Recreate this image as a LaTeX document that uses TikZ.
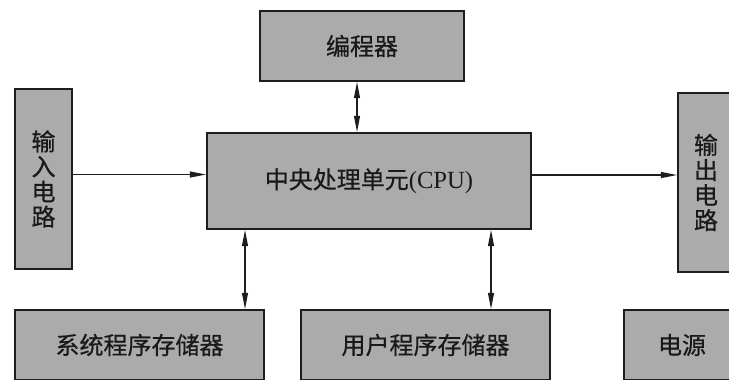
\documentclass[tikz,border=0pt]{standalone}
\usepackage{fontspec}
\setmainfont{Liberation Serif}
\newfontfamily\cjk[FakeBold=0.6]{Noto Sans CJK SC}
\usetikzlibrary{arrows.meta,calc}
\definecolor{boxgray}{HTML}{ABABAB}
\definecolor{linegray}{HTML}{1E1E1E}
\tikzset{
  blk/.style={draw=linegray,line width=1.6pt,fill=boxgray,rectangle,inner sep=0pt,
    font=\fontsize{18}{19}\selectfont\cjk,text=black!90},
  dbl/.style={line width=0.8pt,draw=linegray,{Triangle[length=12pt,width=4.5pt]}-{Triangle[length=12pt,width=4.5pt]}},
  sgl/.style={line width=0.8pt,draw=linegray,-{Triangle[length=12pt,width=4.5pt]}}
}
\begin{document}
\begin{tikzpicture}[x=0.75pt,y=-0.75pt]
\useasboundingbox (0,0) rectangle (729,379);
\fill[white] (0,0) rectangle (729,379);
\clip (0,0) rectangle (729,379);
\node[blk,minimum width=204*0.75pt,minimum height=70*0.75pt] (prog) at (362,46) {编程器};
\node[blk,minimum width=57*0.75pt,minimum height=180*0.75pt,align=center,font=\fontsize{18}{18.8}\selectfont\cjk] (in) at (43.5,179) {输\\入\\电\\路};
\node[blk,minimum width=324*0.75pt,minimum height=96*0.75pt] (cpu) at (369,181) {中央处理单元{\rmfamily\fontsize{18.5}{19}\selectfont(CPU)}};
\node[blk,minimum width=56*0.75pt,minimum height=179*0.75pt,align=center,font=\fontsize{18}{18.8}\selectfont\cjk] (out) at (706,182.5) {输\\出\\电\\路};
\node[blk,minimum width=249*0.75pt,minimum height=70*0.75pt] (sys) at (139.5,345) {系统程序存储器};
\node[blk,minimum width=249*0.75pt,minimum height=70*0.75pt] (usr) at (425.5,345) {用户程序存储器};
\node[blk,minimum width=116*0.75pt,minimum height=70*0.75pt] (pwr) at (682,345) {电源};
\coordinate (pa) at ($(prog.south)+(-5,0)$);
\coordinate (sa) at ($(sys.north)+(105.5,0)$);
\coordinate (ua) at ($(usr.north)+(65.5,0)$);
\coordinate (ia) at ($(cpu.west)+(0,-6.5)$);
\coordinate (oa) at ($(cpu.east)+(0,-6)$);
\draw[dbl] (pa) -- (cpu.north -| pa);
\draw[dbl] (cpu.south -| sa) -- (sa);
\draw[dbl] (cpu.south -| ua) -- (ua);
\draw[sgl] (in.east |- ia) -- (ia);
\draw[sgl] (oa) -- (out.west |- oa);
\end{tikzpicture}
\end{document}
